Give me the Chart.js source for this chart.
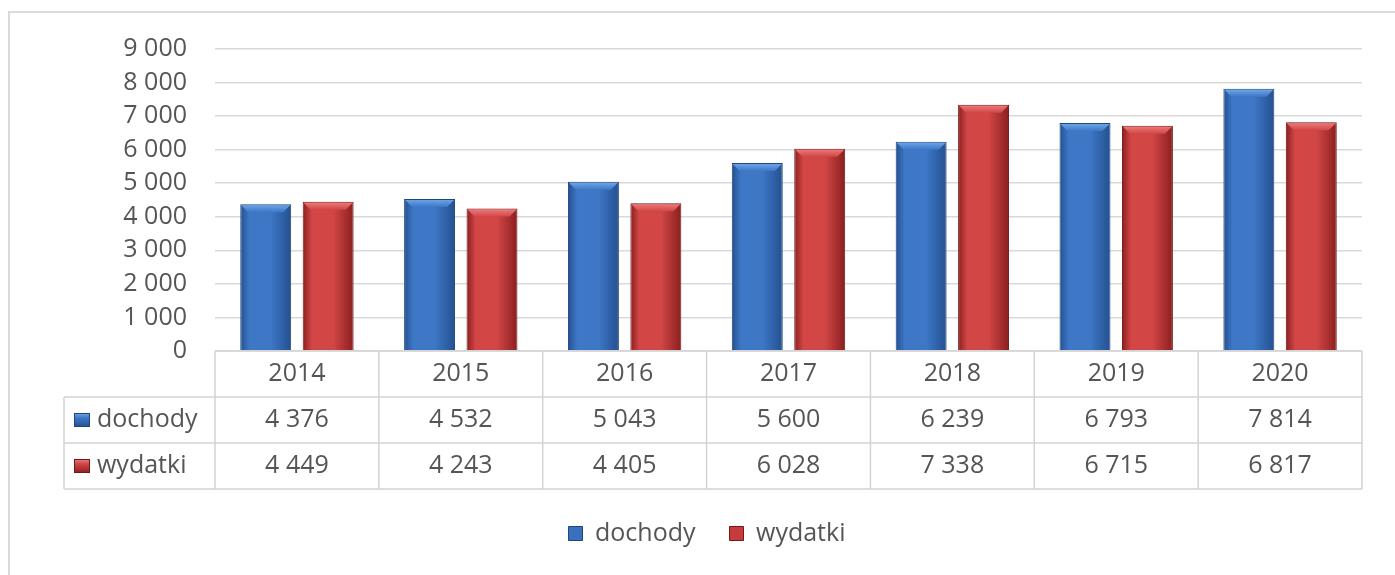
<!DOCTYPE html>
<html>
<head>
<meta charset="utf-8">
<script src="https://cdn.jsdelivr.net/npm/chart.js@4"></script>
<style>
  html, body { margin: 0; padding: 0; background: #ffffff; }
  #wrap { width: 1395px; height: 575px; position: relative; }
</style>
</head>
<body>
<div id="wrap"><canvas id="c" width="1395" height="575"></canvas></div>
<script>
const years = ['2014', '2015', '2016', '2017', '2018', '2019', '2020'];
const dochody = [4376, 4532, 5043, 5600, 6239, 6793, 7814];
const wydatki = [4449, 4243, 4405, 6028, 7338, 6715, 6817];
const seriesNames = ['dochody', 'wydatki'];
const yTicks = [0, 1000, 2000, 3000, 4000, 5000, 6000, 7000, 8000, 9000];

const FONT = 'Open Sans';
const FSIZE = 25;
const TXT = '#555555';
const GRID = '#d9d9d9';

const palettes = [
  { edge: '#24508f', mid: '#3d77c6', light: '#72aaea', border: '#1d467f', solid: '#3a70bd' },
  { edge: '#8a1f1f', mid: '#d24646', light: '#ee8080', border: '#761616', solid: '#c43c3c' }
];

function fmt(v) {
  return String(v).replace(/\B(?=(\d{3})+(?!\d))/g, ' ');
}

function barFill(pal) {
  return function (ctx) {
    const el = ctx.element;
    if (!el || el.width == null || isNaN(el.x)) return pal.solid;
    const c = ctx.chart.ctx;
    const x0 = el.x - el.width / 2, x1 = el.x + el.width / 2;
    const g = c.createLinearGradient(x0, 0, x1, 0);
    g.addColorStop(0, pal.edge);
    g.addColorStop(0.18, pal.mid);
    g.addColorStop(0.6, pal.mid);
    g.addColorStop(1, pal.edge);
    return g;
  };
}

function boxGradient(c, x, y, w, h, pal) {
  const g = c.createLinearGradient(x, y, x, y + h);
  g.addColorStop(0, pal.light);
  g.addColorStop(0.35, pal.mid);
  g.addColorStop(1, pal.edge);
  return g;
}

const framePlugin = {
  id: 'frame',
  beforeDraw(chart) {
    const c = chart.ctx;
    c.save();
    c.fillStyle = '#ffffff';
    c.fillRect(0, 0, chart.width, chart.height);
    c.strokeStyle = '#d9d9d9';
    c.lineWidth = 2;
    c.beginPath();
    c.moveTo(9, chart.height);
    c.lineTo(9, 12);
    c.lineTo(chart.width, 12);
    c.stroke();
    c.restore();
  },
  afterLayout(chart) {
    if (chart.legend) {
      chart.legend.left += 26;
      chart.legend.right += 26;
    }
  }
};

const bevelPlugin = {
  id: 'bevel',
  afterDatasetsDraw(chart) {
    const c = chart.ctx;
    chart.data.datasets.forEach((ds, di) => {
      const pal = palettes[di];
      const meta = chart.getDatasetMeta(di);
      meta.data.forEach(el => {
        const x0 = el.x - el.width / 2, x1 = el.x + el.width / 2;
        const top = el.y;
        const b = 8;
        c.save();
        const g = c.createLinearGradient(0, top, 0, top + b);
        g.addColorStop(0, pal.light);
        g.addColorStop(1, pal.mid);
        c.fillStyle = g;
        c.beginPath();
        c.moveTo(x0 + 1, top + 1);
        c.lineTo(x1 - 1, top + 1);
        c.lineTo(x1 - b, top + b);
        c.lineTo(x0 + b, top + b);
        c.closePath();
        c.fill();
        c.restore();
      });
    });
  }
};

const tablePlugin = {
  id: 'dataTable',
  afterDraw(chart) {
    const c = chart.ctx;
    const xs = chart.scales.x;
    const area = chart.chartArea;
    const n = years.length;
    const rowH = 46;
    const y0 = area.bottom;
    const y1 = y0 + rowH, y2 = y1 + rowH, y3 = y2 + rowH;
    const headLeft = 64;
    const bounds = [];
    for (let i = 0; i <= n; i++) {
      if (i === 0) bounds.push(area.left);
      else if (i === n) bounds.push(area.right);
      else bounds.push((xs.getPixelForValue(i - 1) + xs.getPixelForValue(i)) / 2);
    }
    c.save();
    c.strokeStyle = '#d3d3d3';
    c.lineWidth = 1.5;
    c.beginPath();
    c.moveTo(area.left, y0); c.lineTo(area.right, y0);
    [y1, y2, y3].forEach(y => { c.moveTo(headLeft, y); c.lineTo(area.right, y); });
    c.moveTo(headLeft, y1); c.lineTo(headLeft, y3);
    bounds.forEach(bx => { c.moveTo(bx, y0); c.lineTo(bx, y3); });
    c.stroke();

    c.fillStyle = TXT;
    c.font = FSIZE + 'px "' + FONT + '"';
    c.textBaseline = 'middle';
    c.textAlign = 'center';
    const rows = [dochody, wydatki];
    for (let i = 0; i < n; i++) {
      const cx = xs.getPixelForValue(i);
      c.fillText(years[i], cx, (y0 + y1) / 2);
      c.fillText(fmt(rows[0][i]), cx, (y1 + y2) / 2);
      c.fillText(fmt(rows[1][i]), cx, (y2 + y3) / 2);
    }
    c.textAlign = 'left';
    [[y1, y2], [y2, y3]].forEach((r, k) => {
      const cy = (r[0] + r[1]) / 2;
      const pal = palettes[k];
      const bx = 74, bw = 16, bh = 14, by = cy - bh / 2;
      c.fillStyle = boxGradient(c, bx, by, bw, bh, pal);
      c.fillRect(bx, by, bw, bh);
      c.strokeStyle = pal.border;
      c.lineWidth = 1;
      c.strokeRect(bx + 0.5, by + 0.5, bw - 1, bh - 1);
      c.fillStyle = TXT;
      c.fillText(seriesNames[k], 97, cy);
    });
    c.restore();
  }
};

const chart = new Chart(document.getElementById('c'), {
  type: 'bar',
  data: {
    labels: years,
    datasets: [
      {
        label: seriesNames[0],
        data: dochody,
        backgroundColor: barFill(palettes[0]),
        borderColor: palettes[0].border,
        borderWidth: 1,
        categoryPercentage: 0.762,
        barPercentage: 0.816
      },
      {
        label: seriesNames[1],
        data: wydatki,
        backgroundColor: barFill(palettes[1]),
        borderColor: palettes[1].border,
        borderWidth: 1,
        categoryPercentage: 0.762,
        barPercentage: 0.816
      }
    ]
  },
  options: {
    responsive: false,
    animation: false,
    devicePixelRatio: 1,
    layout: { padding: { top: 49, right: 33, bottom: 19, left: 0 } },
    plugins: {
      tooltip: { enabled: false },
      legend: {
        position: 'bottom',
        labels: {
          boxWidth: 14,
          boxHeight: 14,
          padding: 34,
          color: TXT,
          font: { family: FONT, size: FSIZE },
          generateLabels(ch) {
            return ch.data.datasets.map((ds, i) => ({
              text: ds.label,
              fillStyle: palettes[i].solid,
              strokeStyle: palettes[i].border,
              lineWidth: 1,
              fontColor: TXT,
              datasetIndex: i,
              hidden: false
            }));
          }
        }
      }
    },
    scales: {
      x: {
        grid: { display: false },
        border: { display: false },
        ticks: { display: false },
        afterFit(s) { s.height = 136; }
      },
      y: {
        min: 0,
        max: 9000,
        afterBuildTicks(s) { s.ticks = yTicks.map(v => ({ value: v })); },
        ticks: {
          padding: 28,
          color: TXT,
          font: { family: FONT, size: FSIZE },
          callback: v => fmt(v)
        },
        grid: { color: GRID, lineWidth: 1.5, drawTicks: false },
        border: { display: false },
        afterFit(s) { s.width = 215; }
      }
    }
  },
  plugins: [framePlugin, bevelPlugin, tablePlugin]
});
chart.update();
</script>
</body>
</html>
